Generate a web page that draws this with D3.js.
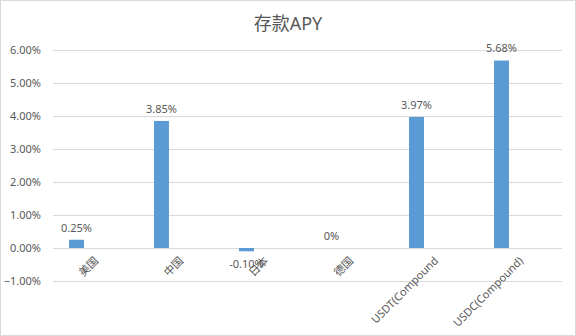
<!DOCTYPE html>
<html><head><meta charset="utf-8">
<script src="https://cdn.jsdelivr.net/npm/d3@7"></script>
<style>body{margin:0;background:#fff}svg{display:block}</style>
</head><body>
<script>
const categories = ["美国", "中国", "日本", "德国", "USDT(Compound", "USDC(Compound)"];
const values = [0.0025, 0.0385, -0.001, 0, 0.0397, 0.0568];
const valueLabels = ["0.25%", "3.85%", "-0.10%", "0%", "3.97%", "5.68%"];
const yTicks = [-0.01, 0, 0.01, 0.02, 0.03, 0.04, 0.05, 0.06];
const title = "存款APY";

const W = 576, H = 336;
const font = "'Noto Sans', 'Noto Sans CJK SC', sans-serif";
const svg = d3.select("body").append("svg").attr("width", W).attr("height", H);
svg.append("rect").attr("x", 0.5).attr("y", 0.5).attr("width", W - 1).attr("height", H - 1)
  .attr("fill", "#fff").attr("stroke", "#d9d9d9");

const y = d3.scaleLinear().domain([-0.01, 0.06]).range([281, 50]);
const x = d3.scaleBand().domain(categories).range([34, 544]).paddingInner(0.824).paddingOuter(0.412);
const gridX0 = 53, gridX1 = 562;

svg.append("text").attr("x", 288).attr("y", 24).attr("dy", "0.35em").attr("text-anchor", "middle")
  .attr("font-family", font).attr("font-size", 18).attr("fill", "#595959").text(title);

const yAxis = d3.axisLeft(y).tickValues(yTicks).tickFormat(d3.format(".2%")).tickSize(0).tickPadding(0);
const gy = svg.append("g").attr("transform", `translate(${gridX0},0)`).call(yAxis);
gy.select(".domain").remove();
gy.selectAll("text").attr("x", -12).attr("font-family", font).attr("font-size", 11).attr("fill", "#595959");
gy.selectAll("line").attr("x2", gridX1 - gridX0).attr("stroke", "#d9d9d9");

svg.append("g").selectAll("rect").data(values).join("rect")
  .attr("x", (d, i) => x(categories[i]))
  .attr("width", x.bandwidth())
  .attr("y", d => y(Math.max(0, d)))
  .attr("height", d => Math.abs(y(d) - y(0)))
  .attr("fill", "#5b9bd5");

svg.append("g").selectAll("text").data(values).join("text")
  .attr("x", (d, i) => x(categories[i]) + x.bandwidth() / 2)
  .attr("y", d => d < 0 ? y(d) + 13 : y(d) - 12)
  .attr("dy", "0.35em").attr("text-anchor", "middle")
  .attr("font-family", font).attr("font-size", 11).attr("fill", "#595959")
  .text((d, i) => valueLabels[i]);

svg.append("g").selectAll("text").data(categories).join("text")
  .attr("transform", d => `translate(${x(d) + x.bandwidth() / 2 + 17},${y(0) + 8}) rotate(-45)`)
  .attr("text-anchor", "end").attr("dy", "0.7em")
  .attr("font-family", font).attr("font-size", 11).attr("fill", "#595959")
  .text(d => d);
</script>
</body></html>
